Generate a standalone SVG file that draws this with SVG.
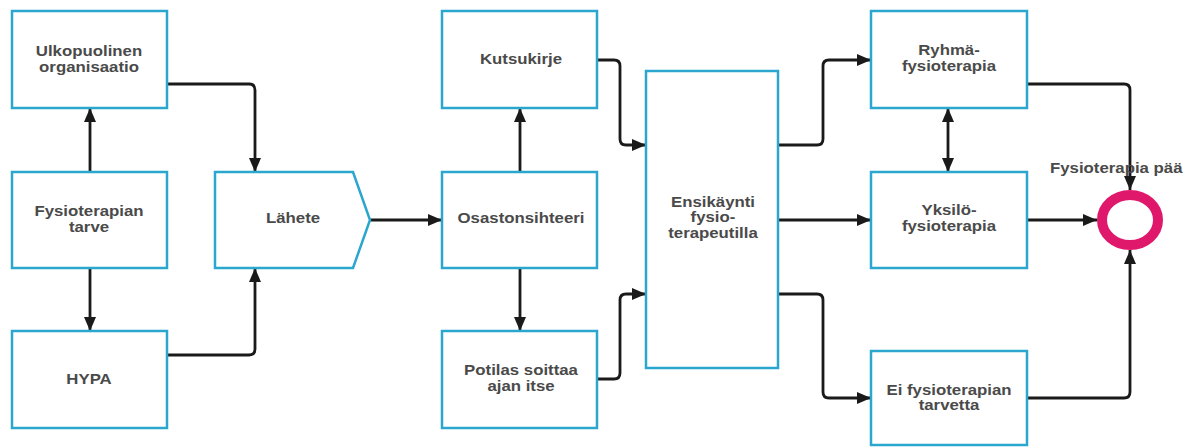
<svg xmlns="http://www.w3.org/2000/svg" width="1197" height="447" viewBox="0 0 1197 447">
<style>
.box{fill:#fff;stroke:#2ba6cf;stroke-width:2.5}
.t{font-family:"Liberation Sans",Arial,sans-serif;font-size:14px;font-weight:bold;fill:#4a4a4a;text-anchor:middle}
.c{fill:none;stroke:#1a1a1a;stroke-width:2.8;marker-end:url(#ah)}
</style>
<defs>
<marker id="ah" viewBox="0 0 14 12" refX="14" refY="6" markerWidth="14" markerHeight="12" markerUnits="userSpaceOnUse" orient="auto-start-reverse">
<path d="M0,0 L14,6 L0,12 z" fill="#1a1a1a"/>
</marker>
</defs>
<rect width="1197" height="447" fill="#fff"/>
<g id="connectors">
<path class="c" d="M90 172 V108"/>
<path class="c" d="M90 268 V331"/>
<path class="c" d="M167 84 H249 Q255 84 255 90 V172"/>
<path class="c" d="M167 355 H249 Q255 355 255 349 V268"/>
<path class="c" d="M370 220 H442"/>
<path class="c" d="M520 172 V108"/>
<path class="c" d="M520 268 V331"/>
<path class="c" d="M597 60 H614 Q620 60 620 66 V139 Q620 145 626 145 H646"/>
<path class="c" d="M597 379 H614 Q620 379 620 373 V300 Q620 294 626 294 H646"/>
<path class="c" d="M778 145 H817 Q823 145 823 139 V66 Q823 60 829 60 H871"/>
<path class="c" d="M778 220 H871"/>
<path class="c" d="M778 294 H817 Q823 294 823 300 V392 Q823 398 829 398 H871"/>
<path class="c" d="M948 108 V172" marker-start="url(#ah)"/>
<path class="c" d="M1027 84 H1124 Q1130 84 1130 90 V190"/>
<path class="c" d="M1027 220 H1097"/>
<path class="c" d="M1027 398 H1124 Q1130 398 1130 392 V250"/>
</g>
<g id="ulkopuolinen">
<rect class="box" x="12" y="11" width="155" height="97"/>
<text class="t" transform="translate(89 0) scale(1.2 1)"><tspan x="0" y="56">Ulkopuolinen</tspan><tspan x="0" y="72">organisaatio</tspan></text>
</g>
<g id="fysioterapian-tarve">
<rect class="box" x="12" y="172" width="155" height="96"/>
<text class="t" transform="translate(89 0) scale(1.2 1)"><tspan x="0" y="216">Fysioterapian</tspan><tspan x="0" y="232">tarve</tspan></text>
</g>
<g id="hypa">
<rect class="box" x="12" y="331" width="155" height="97"/>
<text class="t" transform="translate(89 0) scale(1.2 1)" x="0" y="384">HYPA</text>
</g>
<g id="lahete">
<polygon class="box" points="215,172 353,172 370,220 353,268 215,268"/>
<text class="t" transform="translate(293 0) scale(1.2 1)" x="0" y="223">Lähete</text>
</g>
<g id="kutsukirje">
<rect class="box" x="442" y="11" width="155" height="97"/>
<text class="t" transform="translate(521 0) scale(1.2 1)" x="0" y="64">Kutsukirje</text>
</g>
<g id="osastonsihteeri">
<rect class="box" x="442" y="172" width="155" height="96"/>
<text class="t" transform="translate(521 0) scale(1.2 1)" x="0" y="223">Osastonsihteeri</text>
</g>
<g id="potilas">
<rect class="box" x="442" y="331" width="155" height="97"/>
<text class="t" transform="translate(521 0) scale(1.2 1)"><tspan x="0" y="375">Potilas soittaa</tspan><tspan x="0" y="391">ajan itse</tspan></text>
</g>
<g id="ensikaynti">
<rect class="box" x="646" y="71" width="132" height="297"/>
<text class="t" transform="translate(713 0) scale(1.2 1)"><tspan x="0" y="207">Ensikäynti</tspan><tspan x="0" y="222">fysio-</tspan><tspan x="0" y="238">terapeutilla</tspan></text>
</g>
<g id="ryhma">
<rect class="box" x="871" y="11" width="156" height="97"/>
<text class="t" transform="translate(949 0) scale(1.2 1)"><tspan x="0" y="55">Ryhmä-</tspan><tspan x="0" y="71">fysioterapia</tspan></text>
</g>
<g id="yksilo">
<rect class="box" x="871" y="172" width="156" height="96"/>
<text class="t" transform="translate(949 0) scale(1.2 1)"><tspan x="0" y="215">Yksilö-</tspan><tspan x="0" y="231">fysioterapia</tspan></text>
</g>
<g id="ei-fysioterapian">
<rect class="box" x="871" y="351" width="156" height="94"/>
<text class="t" transform="translate(949 0) scale(1.2 1)"><tspan x="0" y="395">Ei fysioterapian</tspan><tspan x="0" y="410">tarvetta</tspan></text>
</g>
<g id="loppu">
<ellipse cx="1130" cy="220" rx="28" ry="25" fill="none" stroke="#e0186c" stroke-width="10"/>
<text class="t" transform="translate(1050 0) scale(1.2 1)" x="0" y="173" style="text-anchor:start">Fysioterapia pää</text>
</g>
</svg>
